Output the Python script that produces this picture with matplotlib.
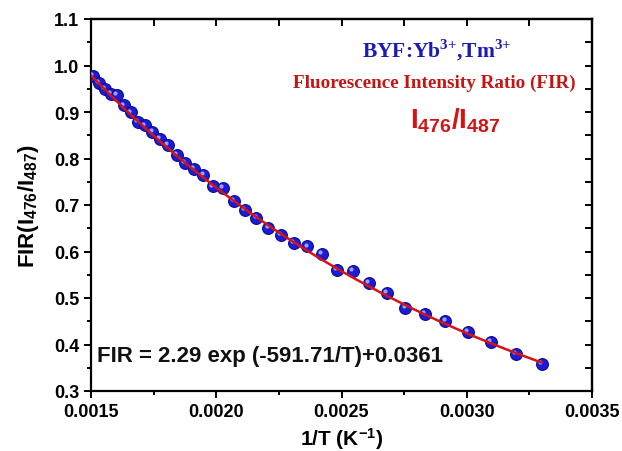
import numpy as np
import matplotlib
matplotlib.use("Agg")
import matplotlib.pyplot as plt
import matplotlib.transforms as mtransforms
from matplotlib.ticker import MultipleLocator, FormatStrFormatter

plt.rcParams['mathtext.fontset'] = 'custom'
plt.rcParams['mathtext.rm'] = 'Liberation Serif:bold'
plt.rcParams['mathtext.bf'] = 'Liberation Sans:bold'
plt.rcParams['mathtext.it'] = 'Liberation Sans:italic'
plt.rcParams['mathtext.sf'] = 'Liberation Sans'

# ---- data ----
inv_T = [0.001508, 0.001531, 0.001555, 0.00158, 0.001605, 0.001631, 0.001658,
         0.001686, 0.001715, 0.001745, 0.001776, 0.001808, 0.001842, 0.001876,
         0.001912, 0.001949, 0.001988, 0.002028, 0.00207, 0.002114, 0.00216,
         0.002208, 0.002257, 0.002309, 0.002364, 0.002421, 0.002481, 0.002545,
         0.002611, 0.002681, 0.002755, 0.002833, 0.002915, 0.003003, 0.003096,
         0.003195, 0.0033]
fir = [0.978, 0.962, 0.950, 0.939, 0.937, 0.914, 0.899, 0.879, 0.871, 0.858,
       0.842, 0.829, 0.808, 0.790, 0.777, 0.765, 0.740, 0.736, 0.709, 0.689,
       0.672, 0.651, 0.636, 0.618, 0.611, 0.594, 0.561, 0.559, 0.532, 0.511,
       0.478, 0.466, 0.451, 0.427, 0.405, 0.380, 0.358]

# fit parameters shown on the chart: FIR = A exp(-B/T) + C
fit_A = 2.29
fit_B = 591.71
fit_C = 0.0361
fit_range = [0.0015, 0.0033]

x_ticks = [0.0015, 0.0020, 0.0025, 0.0030, 0.0035]
y_ticks = [0.3, 0.4, 0.5, 0.6, 0.7, 0.8, 0.9, 1.0, 1.1]

fig = plt.figure(figsize=(6.22, 4.52), dpi=100)
ax = fig.add_axes([91/622, 1 - 392/452, (592-91)/622, (392-20)/452])

xf = np.linspace(fit_range[0], fit_range[1], 300)
yf = fit_A * np.exp(-fit_B * xf) + fit_C

# blue "balls"
ax.plot(inv_T, fir, 'o', ms=8.5, color='#1c1cd6', mec='#0a0a9a', mew=0.8, zorder=3)
hl = mtransforms.offset_copy(ax.transData, fig=fig, x=-1.3, y=1.3, units='points')
ax.plot(inv_T, fir, 'o', ms=3.0, color='#aab0ff', mec='none', alpha=0.9,
        transform=hl, zorder=4)
ax.plot(xf, yf, '-', color='#d41414', lw=1.8, zorder=5)

ax.set_xlim(0.0015, 0.0035)
ax.set_ylim(0.3, 1.1)
ax.set_xticks(x_ticks)
ax.set_yticks(y_ticks)
ax.xaxis.set_major_formatter(FormatStrFormatter('%.4f'))
ax.yaxis.set_major_formatter(FormatStrFormatter('%.1f'))
ax.xaxis.set_minor_locator(MultipleLocator(0.00025))
ax.yaxis.set_minor_locator(MultipleLocator(0.05))

for s in ax.spines.values():
    s.set_linewidth(1.6)

ax.tick_params(which='both', direction='out', width=1.4, top=False, right=False,
               labelsize=13)
ax.tick_params(which='major', length=5)
ax.tick_params(which='minor', length=3)
for lab in ax.get_xticklabels() + ax.get_yticklabels():
    lab.set_fontfamily('Liberation Sans')
    lab.set_fontweight('bold')

# mirrored inward ticks on top and right
secx = ax.secondary_xaxis('top')
secx.set_xticks(x_ticks)
secx.xaxis.set_minor_locator(MultipleLocator(0.00025))
secx.tick_params(which='both', direction='in', width=1.4, labeltop=False)
secx.tick_params(which='major', length=5)
secx.tick_params(which='minor', length=5)
secx.spines['top'].set_linewidth(1.6)
secy = ax.secondary_yaxis('right')
secy.set_yticks(y_ticks)
secy.yaxis.set_minor_locator(MultipleLocator(0.05))
secy.tick_params(which='both', direction='in', width=1.4, labelright=False)
secy.tick_params(which='major', length=5)
secy.tick_params(which='minor', length=5)
secy.spines['right'].set_linewidth(1.6)

ax.set_xlabel(r'1/T (K$^{\mathbf{-1}}$)', fontsize=15, fontweight='bold',
              fontfamily='Liberation Sans', labelpad=4)
ax.set_ylabel(r'FIR(I$_{\mathbf{476}}$/I$_{\mathbf{487}}$)', fontsize=16,
              fontweight='bold', fontfamily='Liberation Sans', labelpad=9)

ax.text(0.0015 + 0.000025, 0.377, 'FIR = 2.29 exp (-591.71/T)+0.0361',
        fontsize=16, fontweight='bold', fontfamily='Liberation Sans',
        color='#111111', va='center', ha='left')

fig.text(437/622, 1 - 50/452, r'BYF:Yb$^{\mathrm{3{+}}}$,Tm$^{\mathrm{3{+}}}$',
         fontsize=15.5, fontweight='bold', fontfamily='Liberation Serif',
         color='#1a1ab8', ha='center', va='center')
fig.text(434/622, 1 - 83/452, 'Fluorescence Intensity Ratio (FIR)', fontsize=13.8,
         fontweight='bold', fontfamily='Liberation Serif', color='#c41414',
         ha='center', va='center')
fig.text(455/622, 1 - 121/452, r'$\mathbf{I_{476}/I_{487}}$', fontsize=20,
         color='#d41414', ha='center', va='center')

fig.savefig('out.png', dpi=100)
